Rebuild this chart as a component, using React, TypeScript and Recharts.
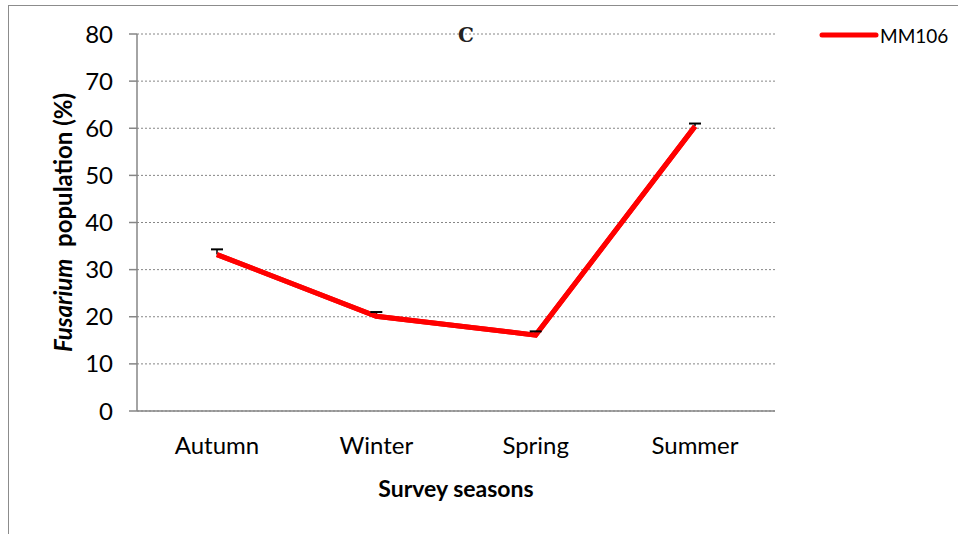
import React from 'react';
import { LineChart, Line, XAxis, YAxis, CartesianGrid, ErrorBar } from 'recharts';

const seasons = ['Autumn', 'Winter', 'Spring', 'Summer'];
const mm106 = [33.2, 20.1, 16.1, 60.4];
const mm106Err = [1.1, 0.9, 0.8, 0.6];
const yTicks = [0, 10, 20, 30, 40, 50, 60, 70, 80];

const data = seasons.map((s, i) => ({
  name: s,
  MM106: mm106[i],
  err: [0, mm106Err[i]],
  cap: mm106[i] + mm106Err[i],
}));

const FONT = 'Lato, "Open Sans", sans-serif';
const AXIS_GRAY = '#868686';

const YLabel = (props: any) => {
  const vb = props.viewBox;
  const cx = vb.x + 62;
  const cy = vb.y + vb.height / 2;
  return (
    <text
      x={cx}
      y={cy}
      transform={`rotate(-90, ${cx}, ${cy})`}
      textAnchor="middle"
      dominantBaseline="central"
      fontFamily={FONT}
      fontSize={24}
      fontWeight="bold"
      fill="#000"
    >
      <tspan fontStyle="italic">Fusarium</tspan>
      <tspan>{'\u00a0 population (%)'}</tspan>
    </text>
  );
};

const XLabel = (props: any) => {
  const vb = props.viewBox;
  return (
    <text
      x={vb.x + vb.width / 2}
      y={vb.y + 86}
      textAnchor="middle"
      fontFamily={FONT}
      fontSize={23}
      fontWeight="bold"
      fill="#000"
    >
      Survey seasons
    </text>
  );
};

// horizontal cap on top of each error bar
const CapDot = (props: any) => {
  const { cx, cy, index } = props;
  if (cx == null || cy == null) return <g key={index} />;
  return <line key={index} x1={cx - 6} x2={cx + 6} y1={cy} y2={cy} stroke="#000" strokeWidth={2} />;
};

export default function App() {
  return (
    <div style={{ position: 'absolute', left: 0, top: 0, width: 958, height: 534, overflow: 'hidden', background: '#fff' }}>
      <div
        style={{
          position: 'absolute',
          left: 8,
          top: 5,
          width: 980,
          height: 560,
          border: '1.5px solid #8c8c8c',
          boxSizing: 'border-box',
        }}
      />
      <LineChart
        width={958}
        height={534}
        data={data}
        margin={{ top: 34, right: 183, bottom: 63, left: 0 }}
        style={{ position: 'absolute', left: 0, top: 0 }}
      >
        <CartesianGrid vertical={false} stroke={AXIS_GRAY} strokeDasharray="2 2" />
        <XAxis
          dataKey="name"
          padding={{ left: 80, right: 80 }}
          axisLine={{ stroke: AXIS_GRAY, strokeWidth: 1.5 }}
          tickLine={false}
          tickSize={6}
          tickMargin={20}
          height={60}
          tick={{ fill: '#000', fontSize: 24, fontFamily: FONT }}
          label={<XLabel />}
        />
        <YAxis
          width={137}
          domain={[0, 80]}
          ticks={yTicks}
          interval={0}
          axisLine={{ stroke: AXIS_GRAY, strokeWidth: 1.5 }}
          tickLine={{ stroke: AXIS_GRAY, strokeWidth: 1.5 }}
          tickSize={8}
          tickMargin={16}
          tick={{ fill: '#000', fontSize: 24, fontFamily: FONT }}
          label={<YLabel />}
        />
        <Line
          type="linear"
          dataKey="MM106"
          stroke="#ff0000"
          strokeWidth={5}
          dot={false}
          isAnimationActive={false}
        >
          <ErrorBar dataKey="err" direction="y" width={0} stroke="#000" strokeWidth={1.5} zIndex={100} />
        </Line>
        <Line
          type="linear"
          dataKey="MM106"
          stroke="#ff0000"
          strokeWidth={5}
          dot={false}
          legendType="none"
          isAnimationActive={false}
        />
        <Line
          type="linear"
          dataKey="cap"
          stroke="none"
          dot={<CapDot />}
          activeDot={false}
          legendType="none"
          isAnimationActive={false}
        />
      </LineChart>
      <svg width={140} height={30} style={{ position: 'absolute', left: 812, top: 20 }}>
        <line x1={10} y1={15} x2={64} y2={15} stroke="#ff0000" strokeWidth={5} strokeLinecap="round" />
        <text x={68} y={15} dominantBaseline="central" fontFamily={FONT} fontSize={19} fill="#000">
          MM106
        </text>
      </svg>
      <div
        style={{
          position: 'absolute',
          left: 458,
          top: 23,
          fontFamily: '"DejaVu Serif", serif',
          fontWeight: 'bold',
          fontSize: 20,
          color: '#222',
        }}
      >
        C
      </div>
    </div>
  );
}
